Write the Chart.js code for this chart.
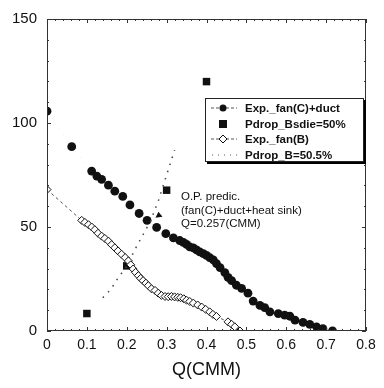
<!DOCTYPE html>
<html>
<head>
<meta charset="utf-8">
<script src="https://cdn.jsdelivr.net/npm/chart.js@4"></script>
<style>
  html, body { margin: 0; padding: 0; background: #fff; }
  #wrap { width: 384px; height: 388px; position: relative; }
</style>
</head>
<body>
<div id="wrap"><canvas id="chart"></canvas></div>
<script>
// Exp._fan(C)+duct (filled circles)
const fanCDuctQ = [0, 0.062, 0.112, 0.125, 0.137, 0.154, 0.170, 0.190, 0.208, 0.231, 0.251, 0.275, 0.298, 0.317, 0.333, 0.342, 0.350, 0.358, 0.367, 0.375, 0.383, 0.392, 0.400, 0.408, 0.417, 0.425, 0.434, 0.446, 0.454, 0.463, 0.475, 0.488, 0.504, 0.517, 0.534, 0.546, 0.559, 0.580, 0.596, 0.609, 0.622, 0.642, 0.659, 0.676, 0.692, 0.716];
const fanCDuctP = [105.7, 88.6, 76.9, 74.5, 72.9, 70.1, 67.2, 64.7, 60.6, 56.5, 53.2, 49.8, 46.8, 44.8, 43.5, 42.6, 41.6, 40.4, 40.0, 39.0, 38.0, 37.2, 36.4, 35.3, 34.2, 32.4, 30.5, 28.1, 25.8, 24.2, 22.0, 20.5, 18.2, 14.4, 12.3, 11.2, 9.2, 8.4, 7.6, 7.1, 5.2, 4.1, 3.2, 2.0, 1.1, 0.1];

// Pdrop_Bsdie=50% (filled squares)
const bsdieQ = [0.1, 0.2, 0.3, 0.4];
const bsdieP = [8.4, 31.3, 67.7, 119.9];

// Exp._fan(B) (open diamonds)
const fanBQ = [0, 0.087, 0.095, 0.104, 0.112, 0.120, 0.128, 0.137, 0.145, 0.154, 0.162, 0.170, 0.178, 0.187, 0.196, 0.204, 0.210, 0.216, 0.222, 0.229, 0.235, 0.241, 0.248, 0.254, 0.262, 0.271, 0.279, 0.287, 0.296, 0.304, 0.312, 0.320, 0.328, 0.335, 0.343, 0.350, 0.358, 0.367, 0.378, 0.388, 0.398, 0.408, 0.416, 0.425, 0.454, 0.463, 0.471, 0.484];
const fanBP = [68, 53.2, 52.2, 51.1, 50.0, 48.7, 47.0, 45.6, 44.5, 43.2, 41.5, 40.0, 38.5, 36.9, 35.3, 33.7, 31.8, 29.8, 28.2, 26.6, 25.3, 24.2, 23.0, 21.8, 20.3, 19.5, 18.2, 17.1, 16.6, 16.5, 16.6, 16.4, 16.2, 16.0, 15.5, 14.8, 14.2, 13.4, 12.5, 11.5, 10.4, 9.2, 8.0, 7.0, 4.4, 3.2, 2.0, 0];

// Pdrop_B=50.5% (dotted curve)
const pdropBQ = [0.14, 0.16, 0.18, 0.20, 0.22, 0.24, 0.26, 0.28, 0.30, 0.32];
const pdropBP = [16, 20, 26, 31, 39, 46, 53, 63, 75, 87];

const xTicks = [0, 0.1, 0.2, 0.3, 0.4, 0.5, 0.6, 0.7, 0.8];
const yTicks = [0, 50, 100, 150];

const seriesNames = ['Exp._fan(C)+duct', 'Pdrop_Bsdie=50%', 'Exp._fan(B)', 'Pdrop_B=50.5%'];
const noteLines = ['O.P. predic.', '(fan(C)+duct+heat sink)', 'Q=0.257(CMM)'];

const toPts = (xs, ys) => xs.map((x, i) => ({ x: x, y: ys[i] }));
const INK = '#111';
const FONT = '"Liberation Sans", Arial, sans-serif';

// frame, inward ticks, legend box and note
const decorPlugin = {
  id: 'decor',
  afterDraw(chart) {
    const { ctx, chartArea: a, scales } = chart;
    const xs = scales.x, ys = scales.y;
    ctx.save();
    ctx.strokeStyle = '#333';
    ctx.lineWidth = 1;
    ctx.strokeRect(a.left + 0.5, a.top + 0.5, a.right - a.left - 1, a.bottom - a.top - 1);

    // ticks
    ctx.beginPath();
    for (let v = 0; v <= 150.001; v += 10) {
      const py = Math.round(ys.getPixelForValue(v)) + 0.5;
      const len = v % 50 === 0 ? 4 : 2;
      ctx.moveTo(a.left, py); ctx.lineTo(a.left + len, py);
      ctx.moveTo(a.right, py); ctx.lineTo(a.right - len, py);
    }
    for (let i = 0; i <= 40; i++) {
      const px = Math.round(xs.getPixelForValue(i * 0.02)) + 0.5;
      const len = i % 5 === 0 ? 4 : 2;
      ctx.moveTo(px, a.bottom); ctx.lineTo(px, a.bottom - len);
      ctx.moveTo(px, a.top); ctx.lineTo(px, a.top + len);
    }
    ctx.stroke();

    // legend
    const bx = 205, by = 98, bw = 159, bh = 64;
    ctx.fillStyle = '#000';
    ctx.fillRect(bx + 2, by + 2, bw, bh);
    ctx.fillStyle = '#fff';
    ctx.fillRect(bx, by, bw, bh);
    ctx.strokeStyle = '#222';
    ctx.strokeRect(bx + 0.5, by + 0.5, bw - 1, bh - 1);
    const rows = [108, 124, 139, 155];
    const sx = 223;
    ctx.font = 'bold 11.5px ' + FONT;
    ctx.textBaseline = 'middle';
    rows.forEach((ry, i) => {
      ctx.strokeStyle = '#555';
      ctx.lineWidth = 1;
      if (i === 0 || i === 2) {
        ctx.setLineDash([3, 2]);
        ctx.beginPath(); ctx.moveTo(211, ry); ctx.lineTo(237, ry); ctx.stroke();
      } else if (i === 3) {
        ctx.setLineDash([1, 5]);
        ctx.beginPath(); ctx.moveTo(212, ry); ctx.lineTo(238, ry); ctx.stroke();
      }
      ctx.setLineDash([]);
      ctx.fillStyle = INK;
      ctx.strokeStyle = INK;
      if (i === 0) {
        ctx.beginPath(); ctx.arc(sx, ry, 3.5, 0, Math.PI * 2); ctx.fill();
      } else if (i === 1) {
        ctx.fillRect(sx - 4, ry - 4, 8, 8);
      } else if (i === 2) {
        ctx.fillStyle = '#fff';
        ctx.beginPath();
        ctx.moveTo(sx, ry - 4); ctx.lineTo(sx + 4, ry); ctx.lineTo(sx, ry + 4); ctx.lineTo(sx - 4, ry); ctx.closePath();
        ctx.fill(); ctx.stroke();
      }
      ctx.fillStyle = INK;
      ctx.fillText(seriesNames[i], 245, ry + 0.5);
    });

    // operating point note
    ctx.font = '11.5px ' + FONT;
    ctx.fillStyle = INK;
    ctx.textBaseline = 'middle';
    const nx = xs.getPixelForValue(0.336);
    [64.5, 57.9, 51.3].forEach((v, i) => ctx.fillText(noteLines[i], nx, ys.getPixelForValue(v)));

    // arrow head pointing at the intersection
    const tx = xs.getPixelForValue(0.272), ty = ys.getPixelForValue(54.5);
    ctx.beginPath();
    ctx.moveTo(tx, ty);
    ctx.lineTo(tx + 7, ty - 1);
    ctx.lineTo(tx + 3, ty - 6);
    ctx.closePath();
    ctx.fill();
    ctx.restore();
  }
};

new Chart(document.getElementById('chart'), {
  type: 'scatter',
  data: {
    datasets: [
      {
        label: seriesNames[2],
        data: toPts(fanBQ, fanBP),
        showLine: true,
        borderColor: '#555',
        borderWidth: 1,
        borderDash: [3, 3],
        pointStyle: 'rectRot',
        pointRadius: 4,
        pointBorderWidth: 1,
        pointBorderColor: INK,
        pointBackgroundColor: '#fff'
      },
      {
        label: seriesNames[3],
        data: toPts(pdropBQ, pdropBP),
        showLine: true,
        borderColor: '#444',
        borderWidth: 1.5,
        borderDash: [1.5, 6],
        pointRadius: 0
      },
      {
        label: seriesNames[0],
        data: toPts(fanCDuctQ, fanCDuctP),
        showLine: true,
        borderColor: 'rgba(80,80,80,0.15)',
        borderWidth: 0.5,
        borderDash: [2, 5],
        pointStyle: 'circle',
        pointRadius: 4.4,
        pointBorderWidth: 0,
        pointBackgroundColor: INK
      },
      {
        label: seriesNames[1],
        data: toPts(bsdieQ, bsdieP),
        showLine: false,
        pointStyle: 'rect',
        pointRadius: 5.3,
        pointBorderWidth: 0,
        pointBackgroundColor: INK
      }
    ]
  },
  options: {
    responsive: true,
    maintainAspectRatio: false,
    animation: false,
    layout: { padding: { left: 0, right: 18, top: 15, bottom: 0 } },
    plugins: {
      legend: { display: false },
      tooltip: { enabled: false }
    },
    scales: {
      x: {
        type: 'linear',
        min: 0,
        max: 0.8,
        afterFit: s => { s.height = 57; },
        afterBuildTicks: s => { s.ticks = xTicks.map(v => ({ value: v })); },
        grid: { display: false, drawTicks: false },
        border: { display: false },
        ticks: {
          padding: 6,
          color: INK,
          font: { family: FONT, size: 14 },
          callback: v => String(v)
        },
        title: {
          display: true,
          text: 'Q(CMM)',
          color: INK,
          font: { family: FONT, size: 18 },
          padding: { top: 0, bottom: 7 }
        }
      },
      y: {
        type: 'linear',
        min: 0,
        max: 150,
        afterFit: s => { s.width = 47; },
        afterBuildTicks: s => { s.ticks = yTicks.map(v => ({ value: v })); },
        grid: { display: false, drawTicks: false },
        border: { display: false },
        ticks: {
          padding: 10,
          color: INK,
          font: { family: FONT, size: 15 }
        }
      }
    }
  },
  plugins: [decorPlugin]
});
</script>
</body>
</html>
